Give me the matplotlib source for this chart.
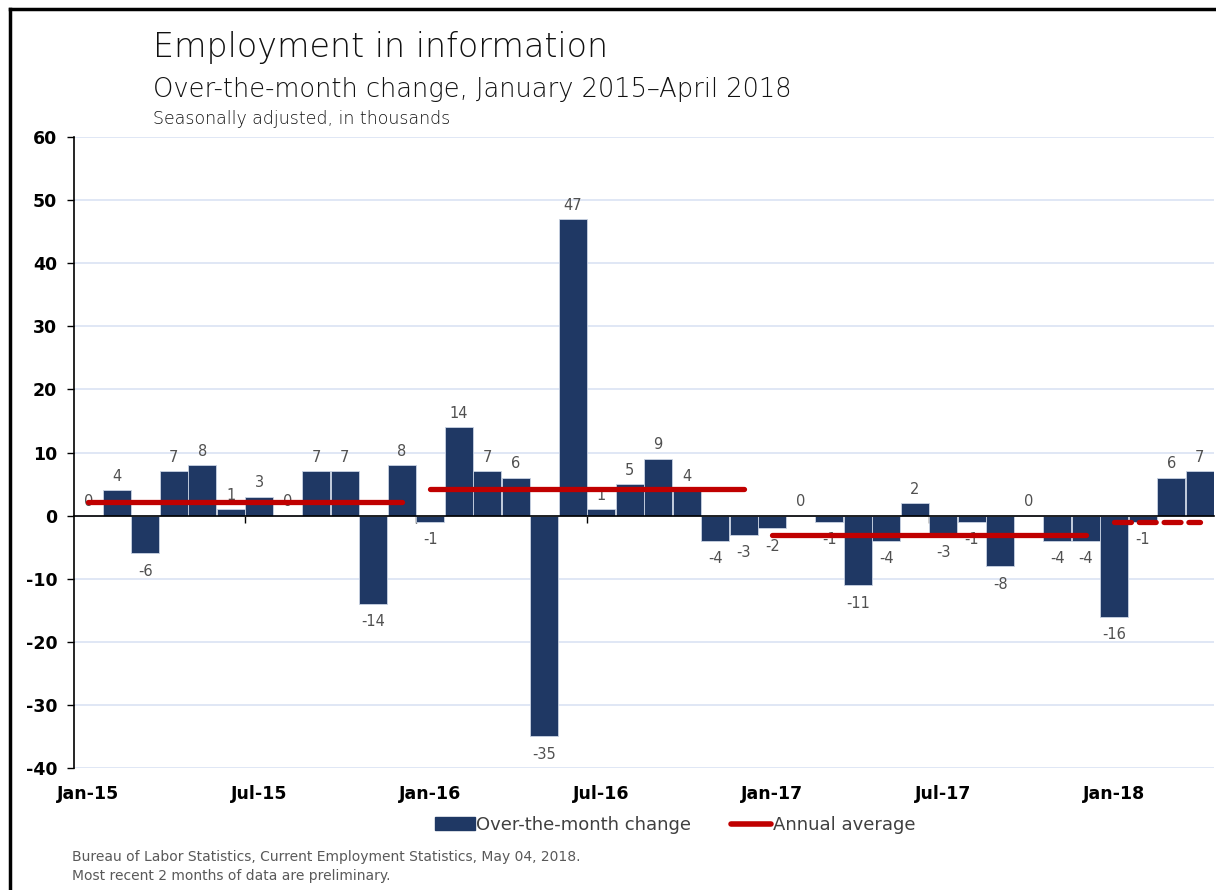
import numpy as np
import matplotlib.pyplot as plt
from matplotlib.lines import Line2D
from matplotlib.patches import Patch

plt.rcParams["axes.unicode_minus"] = False

# monthly over-the-month change, Jan 2015 - Apr 2018 (thousands)
months = ["Jan-15", "Feb-15", "Mar-15", "Apr-15", "May-15", "Jun-15", "Jul-15", "Aug-15", "Sep-15", "Oct-15", "Nov-15", "Dec-15",
          "Jan-16", "Feb-16", "Mar-16", "Apr-16", "May-16", "Jun-16", "Jul-16", "Aug-16", "Sep-16", "Oct-16", "Nov-16", "Dec-16",
          "Jan-17", "Feb-17", "Mar-17", "Apr-17", "May-17", "Jun-17", "Jul-17", "Aug-17", "Sep-17", "Oct-17", "Nov-17", "Dec-17",
          "Jan-18", "Feb-18", "Mar-18", "Apr-18"]
change = [0, 4, -6, 7, 8, 1, 3, 0, 7, 7, -14, 8,
          -1, 14, 7, 6, -35, 47, 1, 5, 9, 4, -4, -3,
          -2, 0, -1, -11, -4, 2, -3, -1, -8, 0, -4, -4,
          -16, -1, 6, 7]

# annual averages: (first month index, last month index, value)
avg_start = [0, 12, 24, 36]
avg_end = [11, 23, 35, 39]
avg_value = [2.1, 4.2, -3.0, -1.0]

navy = "#1f3864"
red = "#c00000"
grey = "#404040"

fig = plt.figure(figsize=(12.16, 8.9), dpi=100)
ax = fig.add_axes([74 / 1216, 1 - 768 / 890, 1140 / 1216, 631 / 890])

x = np.arange(len(change))
ax.bar(x, change, width=0.97, color=navy, edgecolor="#c9d3e3", linewidth=0.6, zorder=2)

for i, v in enumerate(change):
    if v >= 0:
        ax.annotate(str(v), (i, v), xytext=(0, 10), textcoords="offset points",
                    ha="center", va="center", fontsize=10.5, color="#505050")
    else:
        ax.annotate(str(v), (i, v), xytext=(0, -13), textcoords="offset points",
                    ha="center", va="center", fontsize=10.5, color="#505050")

for k in range(len(avg_value)):
    ls = "--" if k == 3 else "-"
    ax.plot([avg_start[k], avg_end[k]], [avg_value[k]] * 2, color=red, lw=3.8,
            ls=ls, solid_capstyle="round", dash_capstyle="round",
            dashes=(3.2, 1.5) if k == 3 else (None, None), zorder=3)

ax.set_xlim(-0.5, len(change) - 0.5)
ax.set_ylim(-40, 60)
ax.set_yticks(range(-40, 61, 10))
ax.yaxis.grid(True, color="#dae3f3", lw=1.2, zorder=0)
ax.set_axisbelow(True)
for lab in ax.get_yticklabels():
    lab.set_fontweight("bold")
ax.tick_params(axis="y", labelsize=12.5, length=5, width=1, pad=7)

for s in ["top", "right"]:
    ax.spines[s].set_visible(False)
ax.spines["bottom"].set_position(("data", 0))
ax.spines["bottom"].set_linewidth(1.2)
ax.spines["left"].set_linewidth(1.2)

# tick marks at half-year boundaries on the zero line
ax.set_xticks(np.arange(5.5, len(change), 6))
ax.set_xticklabels([])
ax.tick_params(axis="x", length=5, width=1, direction="out")

# month labels under the plot
sec = ax.secondary_xaxis(0)
sec.set_xticks(x[::6])
sec.set_xticklabels(months[::6], fontweight="bold", fontsize=12.5)
sec.tick_params(length=0, pad=12)
sec.spines["bottom"].set_visible(False)

fig.text(153 / 1216, 1 - 48 / 890, "Employment in information", fontsize=24,
         color="#111111", va="center", fontweight="light")
fig.text(153 / 1216, 1 - 90 / 890, "Over-the-month change, January 2015\u2013April 2018",
         fontsize=18.5, color="#111111", va="center", fontweight="light")
fig.text(153 / 1216, 1 - 119 / 890, "Seasonally adjusted, in thousands",
         fontsize=12.5, color="#111111", va="center", fontweight="light")

handles = [Patch(facecolor=navy, edgecolor=navy),
           Line2D([0], [0], color=red, lw=4, solid_capstyle="round")]
fig.legend(handles, ["Over-the-month change", "Annual average"],
           loc="center", bbox_to_anchor=(675 / 1216, 1 - 825 / 890), ncol=2,
           frameon=False, fontsize=13, handlelength=2.2, handletextpad=0.1,
           columnspacing=2.2, labelcolor=grey)

fig.text(72 / 1216, 1 - 857 / 890, "Bureau of Labor Statistics, Current Employment Statistics, May 04, 2018.",
         fontsize=10, color="#595959", va="center")
fig.text(72 / 1216, 1 - 876 / 890, "Most recent 2 months of data are preliminary.",
         fontsize=10, color="#595959", va="center")

# frame around the chart
fig.add_artist(Line2D([10 / 1216, 1], [1 - 9 / 890] * 2, color="black", lw=2.5))
fig.add_artist(Line2D([10 / 1216] * 2, [0, 1 - 9 / 890], color="black", lw=2.5))

fig.savefig("out.png", dpi=100)
